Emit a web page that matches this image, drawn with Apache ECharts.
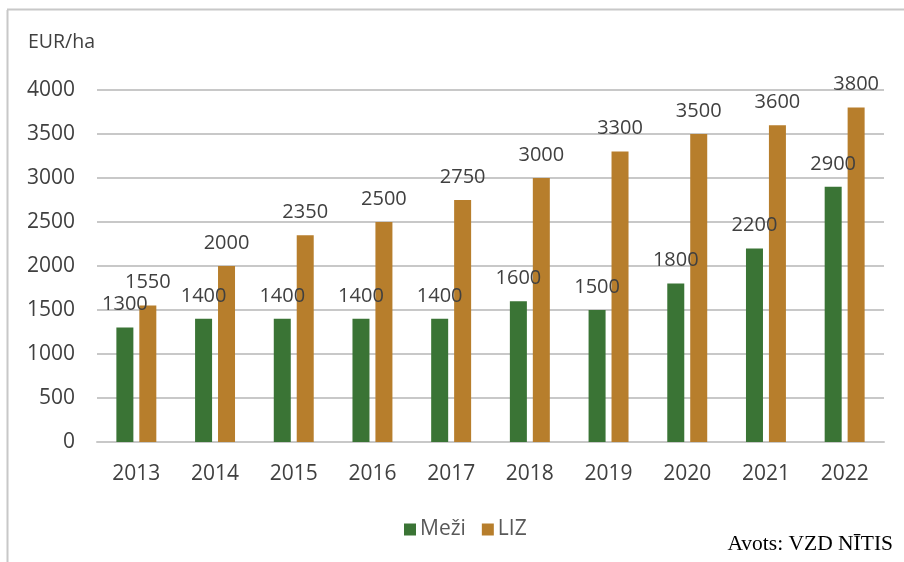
<!DOCTYPE html>
<html><head><meta charset="utf-8">
<script src="https://cdn.jsdelivr.net/npm/echarts@6/dist/echarts.min.js"></script>
<style>html,body{margin:0;padding:0;background:#fff}#c{width:904px;height:562px}</style>
</head><body><div id="c"></div>
<script>
const categories = ['2013','2014','2015','2016','2017','2018','2019','2020','2021','2022'];
const meziValues = [1300,1400,1400,1400,1400,1600,1500,1800,2200,2900];
const lizValues  = [1550,2000,2350,2500,2750,3000,3300,3500,3600,3800];
const yTicks = [0,500,1000,1500,2000,2500,3000,3500,4000];
const seriesNames = ['Meži','LIZ'];
const unitLabel = 'EUR/ha';
const sourceText = 'Avots: VZD NĪTIS';

const font = '"Open Sans", "Noto Sans", sans-serif';
const chart = echarts.init(document.getElementById('c'), null, {renderer:'canvas'});
const labelCfg = {show:true, position:'top', distance:13, color:'#404040', fontSize:20, fontFamily:font};
chart.setOption({
  animation:false,
  backgroundColor:'#ffffff',
  grid:{left:97, right:20, top:90, bottom:120, containLabel:false},
  legend:{
    data:seriesNames, left:399, top:514, itemWidth:12, itemHeight:12, itemGap:16,
    icon:'rect', textStyle:{color:'#595959', fontSize:21, fontFamily:font, padding:[0,0,0,-1]}
  },
  graphic:[
    {type:'line', shape:{x1:7.5,y1:10,x2:7.5,y2:562}, style:{stroke:'#c8c8c8', lineWidth:2}},
    {type:'line', shape:{x1:7,y1:9.5,x2:904,y2:9.5}, style:{stroke:'#c8c8c8', lineWidth:2}},
    {type:'text', left:28, top:32, style:{text:unitLabel, fontSize:19.5, fontFamily:font, fill:'#404040'}},
    {type:'text', right:11, top:533, style:{text:sourceText, fontSize:21.5, fontFamily:'"Liberation Serif", "Times New Roman", serif', fill:'#000'}}
  ],
  xAxis:{
    type:'category', data:categories,
    axisLine:{lineStyle:{color:'#c8c8c8', width:2}},
    axisTick:{show:false},
    axisLabel:{color:'#404040', fontSize:21, fontFamily:font, margin:22}
  },
  yAxis:{
    type:'value', min:yTicks[0], max:yTicks[yTicks.length-1], interval:500,
    axisLine:{show:false}, axisTick:{show:false},
    axisLabel:{color:'#404040', fontSize:21, fontFamily:font, margin:22, formatter:v=>String(v)},
    splitLine:{lineStyle:{color:'#c8c8c8', width:2}}
  },
  series:[
    {name:seriesNames[0], type:'bar', data:meziValues, barWidth:17, barGap:'35%',
     itemStyle:{color:'#3a7435'}, label:labelCfg},
    {name:seriesNames[1], type:'bar', data:lizValues, barWidth:17,
     itemStyle:{color:'#b77e2c'}, label:labelCfg}
  ]
});
</script></body></html>
